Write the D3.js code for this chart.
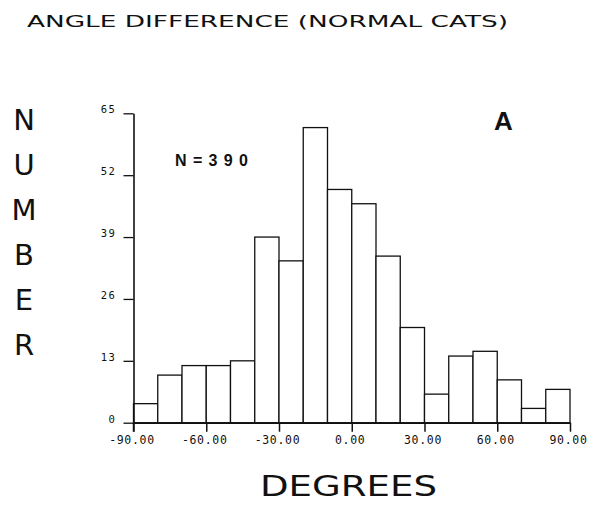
<!DOCTYPE html>
<html>
<head>
<meta charset="utf-8">
<script src="https://cdn.jsdelivr.net/npm/d3@7"></script>
<style>
  html, body { margin: 0; padding: 0; background: #fff; }
  svg { display: block; }
  .plot-text { font-family: "DejaVu Sans", sans-serif; fill: #111; }
  .tick-text { font-family: "DejaVu Sans Mono", monospace; fill: #111; }
</style>
</head>
<body>
<script>
// Histogram of angle differences, 10-degree bins from -90 to +90
const binStarts = [-90, -80, -70, -60, -50, -40, -30, -20, -10, 0, 10, 20, 30, 40, 50, 60, 70, 80];
const counts    = [4, 10, 12, 12, 13, 39, 34, 62, 49, 46, 35, 20, 6, 14, 15, 9, 3, 7];
const binWidth = 10;
const xTicks = [-90, -60, -30, 0, 30, 60, 90];
const yTicks = [0, 13, 26, 39, 52, 65];
const titleText = "ANGLE DIFFERENCE (NORMAL CATS)";
const yTitle = ["N", "U", "M", "B", "E", "R"];
const xTitle = "DEGREES";
const nLabel = "N=390";
const panelLabel = "A";

const W = 594, H = 511;
const svg = d3.select("body").append("svg").attr("width", W).attr("height", H);

const x = d3.scaleLinear().domain([-90, 90]).range([133.5, 570]);
const y = d3.scaleLinear().domain([0, 65]).range([422.7, 113.3]);

// bars
svg.append("g").selectAll("rect")
  .data(binStarts.map((b, i) => ({ b, c: counts[i] })))
  .join("rect")
  .attr("x", d => x(d.b))
  .attr("width", d => x(d.b + binWidth) - x(d.b))
  .attr("y", d => y(d.c))
  .attr("height", d => y(0) - y(d.c))
  .attr("fill", "#fff")
  .attr("stroke", "#111")
  .attr("stroke-width", 1.3);

// x axis
const xAxis = svg.append("g").attr("transform", `translate(0,${y(0)})`)
  .call(d3.axisBottom(x).tickValues(xTicks).tickSize(9).tickSizeOuter(0).tickFormat(d3.format(".2f")));
xAxis.select(".domain").attr("stroke", "#111").attr("stroke-width", 1.6);
xAxis.selectAll(".tick line").attr("stroke", "#111").attr("stroke-width", 1.5);
xAxis.selectAll(".tick text")
  .attr("class", "tick-text")
  .attr("y", 13).attr("dx", -2)
  .style("font-size", "11.5px")
  .style("letter-spacing", "0.7px")
  .text(d => d3.format(".2f")(d).replace("−", "-"));

// y axis
const yAxis = svg.append("g").attr("transform", `translate(${x(-90)},0)`)
  .call(d3.axisLeft(y).tickValues(yTicks).tickSize(10).tickSizeOuter(0));
yAxis.select(".domain").attr("stroke", "#111").attr("stroke-width", 1.6);
yAxis.selectAll(".tick line").attr("stroke", "#111").attr("stroke-width", 1.3);
yAxis.selectAll(".tick text")
  .attr("class", "tick-text")
  .attr("x", -17).attr("dy", "-0.05em")
  .style("font-size", "10.5px")
  .style("letter-spacing", "1.6px");
svg.selectAll(".tick text").attr("fill", "#111");

// extend y axis line down to the tick level below the x axis
svg.append("line")
  .attr("x1", x(-90)).attr("x2", x(-90))
  .attr("y1", y(0)).attr("y2", y(0) + 9)
  .attr("stroke", "#111").attr("stroke-width", 1.5);

// title
svg.append("text").attr("class", "plot-text")
  .attr("x", 27).attr("y", 27)
  .attr("textLength", 481).attr("lengthAdjust", "spacingAndGlyphs")
  .style("font-size", "16.5px")
  .text(titleText);

// vertical y label, stacked letters
svg.append("g").selectAll("text")
  .data(yTitle)
  .join("text")
  .attr("class", "plot-text")
  .attr("x", 24).attr("text-anchor", "middle")
  .attr("y", (d, i) => 130 + i * 45)
  .style("font-size", "29px")
  .text(d => d);

// x label
svg.append("text").attr("class", "plot-text")
  .attr("x", 260).attr("y", 496)
  .attr("textLength", 177).attr("lengthAdjust", "spacingAndGlyphs")
  .style("font-size", "28px")
  .text(xTitle);

// sample size
svg.append("text")
  .attr("x", 175).attr("y", 166)
  .style("font-family", "'Liberation Sans', Arial, sans-serif")
  .style("font-weight", "bold")
  .style("font-size", "16px")
  .attr("textLength", 73).attr("lengthAdjust", "spacing")
  .attr("fill", "#111")
  .text(nLabel);

// panel letter
svg.append("text")
  .attr("x", 494).attr("y", 130)
  .style("font-family", "'Liberation Sans', Arial, sans-serif")
  .style("font-weight", "bold")
  .style("font-size", "26px")
  .attr("fill", "#111")
  .text(panelLabel);
</script>
</body>
</html>
